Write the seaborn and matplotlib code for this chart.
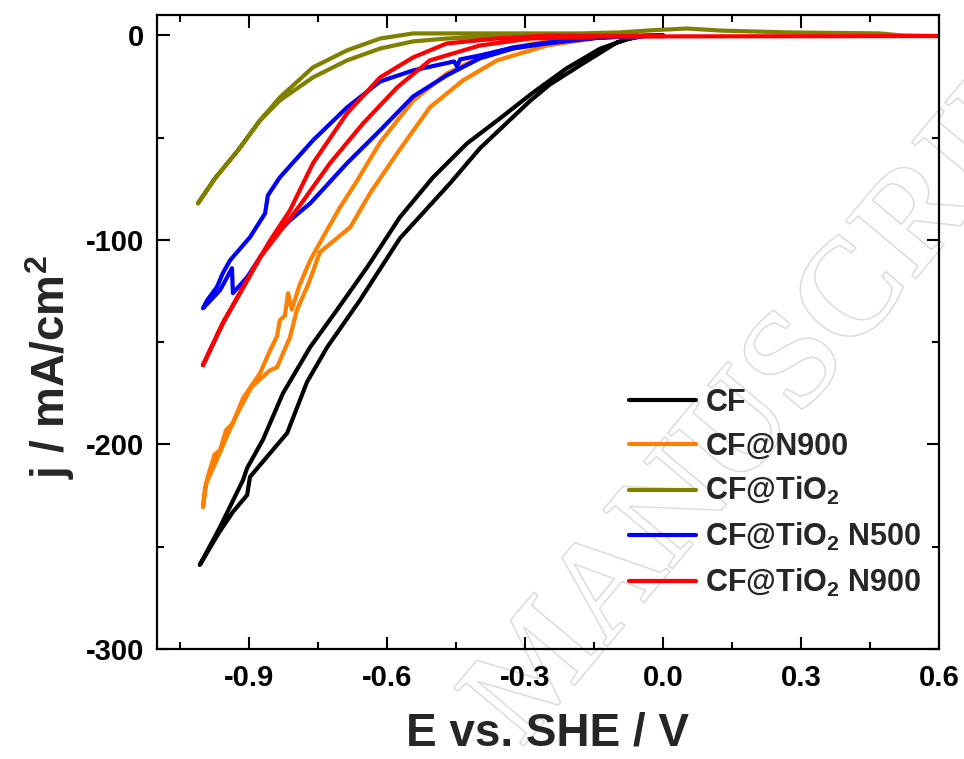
import numpy as np
import pandas as pd
import matplotlib
matplotlib.use("Agg")
import matplotlib.pyplot as plt
import matplotlib.patheffects as pe
from matplotlib.ticker import MultipleLocator
import seaborn as sns

# ---------------- data ----------------
labels = ["CF", "CF@N900", r"CF@TiO$_2$", r"CF@TiO$_2$ N500", r"CF@TiO$_2$ N900"]
colors = ["#000000", "#FF8000", "#808000", "#0000FF", "#FF0000"]

cf_E = [0.0, -0.039, -0.072, -0.100, -0.174, -0.246, -0.289, -0.398, -0.463, -0.572,
        -0.659, -0.730, -0.774, -0.817, -0.898, -0.904, -0.935, -0.965, -1.007,
        -0.963, -0.913, -0.904, -0.870, -0.826, -0.767, -0.709, -0.643, -0.572,
        -0.500, -0.426, -0.354, -0.283, -0.209, -0.137,
        -0.078, -0.039, 0.0]
cf_j = [0.0, 0.0, -1.5, -3.4, -13.7, -24.0, -32.0, -55.2, -72.3, -99.2,
        -129.5, -152.4, -169.5, -194.4, -215.9, -224.7, -233.0, -243.0, -258.9,
        -240.4, -217.4, -211.5, -197.8, -174.9, -152.4, -134.3, -113.3, -88.9,
        -69.4, -52.8, -40.5, -28.0, -16.0, -6.5,
        -1.8, 0.0, 0.0]

n900_E = [0.0, -0.137, -0.217, -0.326, -0.398, -0.470, -0.543, -0.615, -0.665,
          -0.702, -0.735, -0.767, -0.790, -0.807, -0.815, -0.822, -0.833, -0.839,
          -0.854, -0.876, -0.913, -0.935, -0.950, -0.963, -0.975, -0.990, -0.996,
          -1.000,
          -0.993, -0.975, -0.950, -0.928, -0.895, -0.856, -0.839, -0.811, -0.796,
          -0.770, -0.746, -0.680, -0.637, -0.578, -0.507, -0.435, -0.361, -0.252,
          -0.137, 0.0]
n900_j = [0.0, -0.2, -1.5, -5.9, -10.7, -18.6, -31.8, -52.3, -71.0,
          -84.0, -97.0, -109.9, -122.0, -134.0, -126.0, -137.0, -139.2, -147.0,
          -153.9, -165.1, -177.4, -189.5, -193.0, -202.7, -205.0, -216.0, -222.0,
          -230.6,
          -219.0, -210.0, -197.0, -186.0, -172.0, -164.0, -162.2, -147.6, -134.3,
          -121.0, -106.0, -93.8, -77.2, -57.6, -35.2, -22.0, -12.2, -4.9,
          -1.0, 0.0]

tio2_E = [0.6, 0.52, 0.47, 0.270, 0.124, 0.052, -0.020, -0.093, -0.180, -0.398,
          -0.543, -0.615, -0.687, -0.761, -0.833, -0.876, -0.924, -0.974, -1.011,
          -0.974, -0.924, -0.876, -0.833, -0.761, -0.687, -0.615, -0.543, -0.470,
          -0.326, 0.0]
tio2_j = [-0.3, 0.0, 1.0, 1.5, 2.4, 3.4, 2.6, 1.5, 1.0, 1.0,
          1.0, -1.5, -7.3, -15.6, -30.3, -41.5, -56.2, -69.9, -82.1,
          -69.9, -56.2, -41.5, -31.8, -20.5, -12.2, -6.4, -2.9, -1.5,
          0.0, 0.0]

n500_E = [0.0, -0.137, -0.217, -0.326, -0.398, -0.441, -0.448, -0.454, -0.543,
          -0.615, -0.687, -0.761, -0.833, -0.859, -0.865, -0.898, -0.941, -0.957,
          -0.970, -0.991, -1.000,
          -0.963, -0.937, -0.935, -0.904, -0.876, -0.839, -0.811, -0.767, -0.687,
          -0.615, -0.543, -0.470, -0.398, -0.326, -0.252, -0.137, 0.0]
n500_j = [0.0, -1.0, -2.4, -5.9, -9.8, -11.7, -15.1, -12.7, -17.1,
          -22.5, -35.2, -51.3, -69.4, -78.2, -87.0, -98.7, -109.9, -116.3,
          -123.1, -129.5, -133.4,
          -124.6, -113.8, -126.0, -118.2, -108.5, -96.7, -90.4, -82.1, -62.5,
          -46.4, -29.8, -19.5, -11.2, -6.4, -3.9, -1.0, 0.0]

tn900_E = [0.6, -0.137, -0.289, -0.398, -0.507, -0.578, -0.652, -0.724, -0.789,
           -0.839, -0.876, -0.904, -0.957, -1.000, -0.957, -0.904, -0.876,
           -0.854, -0.811, -0.761, -0.687, -0.615, -0.543, -0.470, -0.361,
           -0.252, 0.0]
tn900_j = [-0.3, -0.5, -1.5, -4.9, -12.2, -25.4, -43.0, -62.5, -83.0,
           -97.7, -108.5, -119.7, -140.7, -161.2, -140.7, -119.7, -108.5,
           -100.2, -85.5, -62.5, -38.1, -20.5, -10.7, -3.9, -1.5,
           0.0, -0.3]

series = [(cf_E, cf_j), (n900_E, n900_j), (tio2_E, tio2_j), (n500_E, n500_j), (tn900_E, tn900_j)]

# ---------------- style ----------------
sns.set_theme(style="ticks")
plt.rcParams["font.family"] = ["Liberation Sans", "DejaVu Sans"]
plt.rcParams["font.weight"] = "bold"
plt.rcParams["mathtext.fontset"] = "custom"
plt.rcParams["mathtext.rm"] = "Liberation Sans:bold"
plt.rcParams["mathtext.it"] = "Liberation Sans:bold"
plt.rcParams["mathtext.bf"] = "Liberation Sans:bold"
plt.rcParams["axes.linewidth"] = 1.6

fig = plt.figure(figsize=(9.64, 7.59), dpi=100)
ax = fig.add_axes([157 / 964, 1 - 649 / 759, 782 / 964, 634 / 759])

# faint watermark
wm = ax.text(522 / 964, 1 - 748 / 759, "MANUSCRIPT", transform=fig.transFigure,
             fontsize=100, family="Liberation Serif", rotation=50,
             rotation_mode="anchor", ha="left", va="baseline",
             color=(1, 1, 1, 0), zorder=0.5, clip_on=False)
wm.set_path_effects([pe.Stroke(linewidth=1.1, foreground="#dcdcdc")])

draw_order = [2, 3, 4, 1, 0]
for i in draw_order:
    E, j = series[i]
    df = pd.DataFrame({"E": E, "j": j})
    sns.lineplot(data=df, x="E", y="j", sort=False, estimator=None,
                 color=colors[i], linewidth=3.0, ax=ax, label=labels[i],
                 zorder=2 + i * 0.01)
for ln in ax.get_lines():
    ln.set_solid_joinstyle("round")
    ln.set_solid_capstyle("round")

h, l = ax.get_legend_handles_labels()
hmap = dict(zip(l, h))
leg = ax.legend([hmap[k] for k in labels], labels, loc="upper left",
                bbox_to_anchor=(0.6036, 0.412), frameon=False, fontsize=22,
                handlelength=2.2, handletextpad=0.3, labelspacing=0.45,
                borderpad=0, borderaxespad=0)
for t in leg.get_texts():
    t.set_fontweight("bold")

ax.set_xlim(-1.1, 0.6)
ax.set_ylim(-300, 10)
ax.set_xticks([-0.9, -0.6, -0.3, 0.0, 0.3, 0.6])
ax.set_xticklabels(["-0.9", "-0.6", "-0.3", "0.0", "0.3", "0.6"])
ax.xaxis.set_minor_locator(MultipleLocator(0.15))
ax.set_yticks([0, -100, -200, -300])
ax.set_yticklabels(["0", "-100", "-200", "-300"])
ax.yaxis.set_minor_locator(MultipleLocator(50))
ax.tick_params(which="both", direction="in", top=True, right=True, width=1.5, colors="black")
ax.tick_params(which="major", length=9)
ax.tick_params(which="minor", length=5)
ax.tick_params(axis="x", which="major", pad=11, labelsize=21)
ax.tick_params(axis="y", which="major", pad=9, labelsize=21)
for lab in ax.get_xticklabels() + ax.get_yticklabels():
    lab.set_fontweight("bold")

ax.set_xlabel("E vs. SHE / V", fontsize=33, fontweight="bold", labelpad=14)
ax.set_ylabel("j / mA/cm$^2$", fontsize=33, fontweight="bold")
ax.yaxis.set_label_coords(-0.102, 0.445)
for s in ax.spines.values():
    s.set_color("black")
    s.set_linewidth(1.6)

fig.savefig("out.png", dpi=100)
